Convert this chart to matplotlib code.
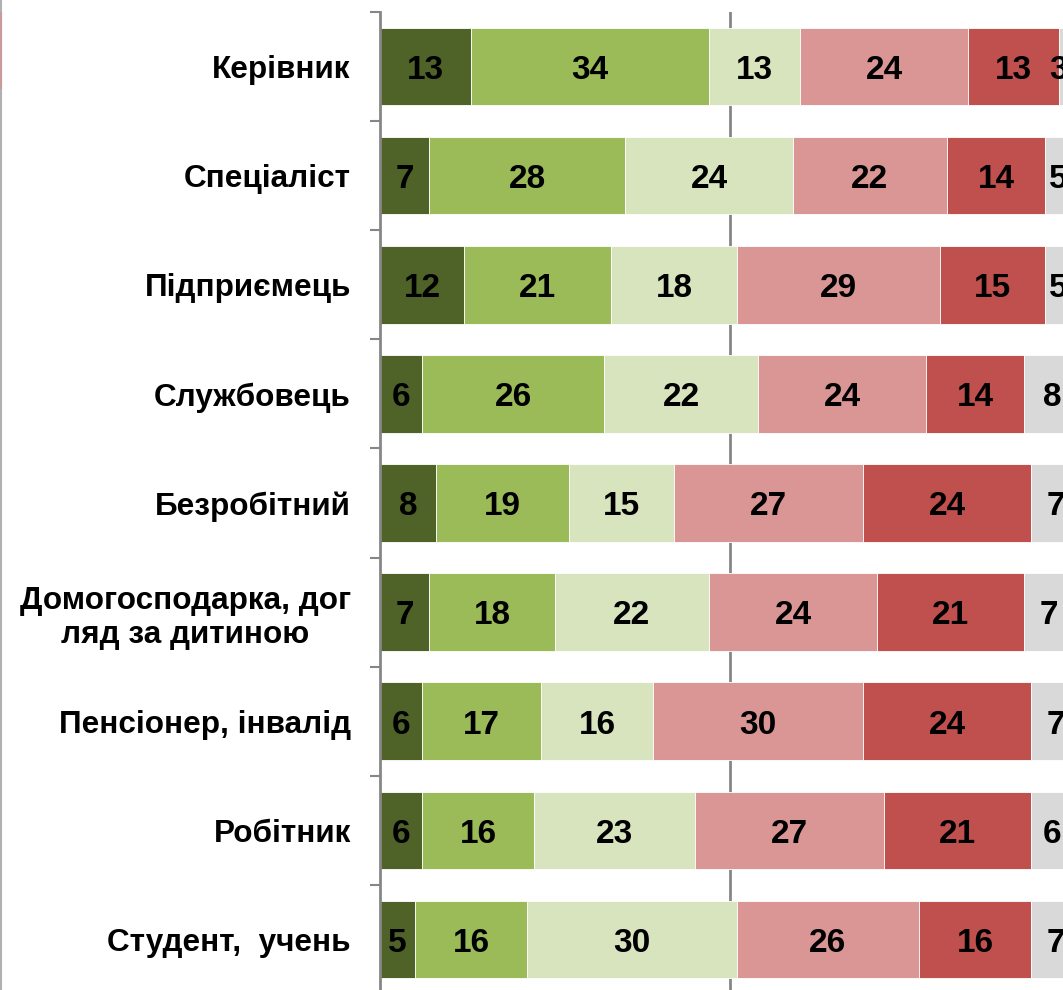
import matplotlib.pyplot as plt
import numpy as np
from matplotlib.lines import Line2D

categories = [
    "Керівник",
    "Спеціаліст",
    "Підприємець",
    "Службовець",
    "Безробітний",
    "Домогосподарка, дог\nляд за дитиною",
    "Пенсіонер, інвалід",
    "Робітник",
    "Студент,  учень",
]

fully_support = [13, 7, 12, 6, 8, 7, 6, 6, 5]
rather_support = [34, 28, 21, 26, 19, 18, 17, 16, 16]
neutral = [13, 24, 18, 22, 15, 22, 16, 23, 30]
rather_oppose = [24, 22, 29, 24, 27, 24, 30, 27, 26]
fully_oppose = [13, 14, 15, 14, 24, 21, 24, 21, 16]
no_answer = [3, 5, 5, 8, 7, 7, 7, 6, 7]

series = [fully_support, rather_support, neutral, rather_oppose, fully_oppose, no_answer]
colors = ["#4F6228", "#9BBB59", "#D7E4BD", "#D99694", "#C0504D", "#D9D9D9"]

plt.rcParams["font.family"] = ["Liberation Sans", "DejaVu Sans"]

W, H = 1063, 990
fig = plt.figure(figsize=(W / 100, H / 100), dpi=100)
ax = fig.add_axes([380 / W, -4 / H, 683 / W, 982 / H])

xmax = 683 / 7
# labels near the cut right edge are nudged inwards, as in the original
label_limit = xmax - 0.7

y = np.arange(len(categories))
left = np.zeros(len(categories))
for vals, col in zip(series, colors):
    vals = np.array(vals, dtype=float)
    ax.barh(y, vals, left=left, height=0.71, color=col, edgecolor="white",
            linewidth=0.6, zorder=2)
    for yi, (l, v) in enumerate(zip(left, vals)):
        ax.text(min(l + v / 2, label_limit), yi + 0.035, f"{int(v)}",
                ha="center", va="center", fontsize=24, fontweight="bold",
                color="black", zorder=3, clip_on=False)
    left += vals

ax.set_xlim(0, xmax)
ax.set_ylim(len(categories) - 0.5, -0.5)
ax.axvline(50, color="#868686", linewidth=2, zorder=1)

for s in ["top", "right", "bottom"]:
    ax.spines[s].set_visible(False)
ax.spines["left"].set_color("#868686")
ax.spines["left"].set_linewidth(2)

ax.set_xticks([])
ax.set_yticks(np.arange(len(categories) + 1) - 0.5, minor=True)
ax.set_yticks(y)
ax.set_yticklabels(categories, fontsize=22.7, fontweight="bold",
                   linespacing=1.2, multialignment="center")
ax.tick_params(axis="y", which="major", length=0, pad=21)
ax.tick_params(axis="y", which="minor", length=7.5, width=1.5, color="#868686")

# remnants at the very left edge of the crop
fig.add_artist(Line2D([0.5 / W, 0.5 / W], [0, 1], transform=fig.transFigure,
                      color="#B0B0B0", linewidth=1.5))
fig.add_artist(Line2D([0.5 / W, 0.5 / W], [1 - 88 / H, 1 - 13 / H],
                      transform=fig.transFigure, color="#C89A9A", linewidth=1.5))

fig.savefig("out.png", dpi=100)
